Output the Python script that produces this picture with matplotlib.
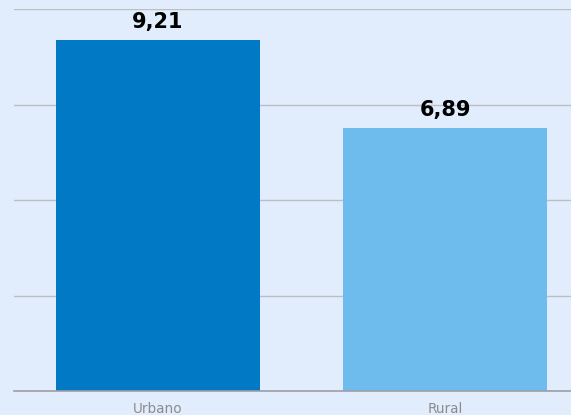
import matplotlib.pyplot as plt

categories = ["Urbano", "Rural"]
values = [9.21, 6.89]
value_labels = ["9,21", "6,89"]
bar_colors = ["#0279c4", "#6ebcee"]
y_ticks = [0, 2.5, 5, 7.5, 10]

bg = "#e1edfd"

fig = plt.figure(figsize=(5.71, 4.15), dpi=100, facecolor=bg)
ax = fig.add_axes([14 / 571, 1 - 391 / 415, 1 - 14 / 571, (391 - 9.5) / 415])
ax.set_facecolor(bg)

x = list(range(len(categories)))
bars = ax.bar(x, values, width=0.71, color=bar_colors, zorder=3)

for xi, v, lab in zip(x, values, value_labels):
    ax.annotate(lab, (xi, v), xytext=(0, 8.6), textcoords="offset points",
                ha="center", va="baseline", fontsize=15, fontweight="bold",
                color="black", family="DejaVu Sans")

ax.set_xlim(-0.502, 1.439)
ax.set_ylim(0, 10)
ax.set_yticks(y_ticks)
ax.yaxis.grid(True, color="#bcbec0", linewidth=1, zorder=0)
ax.tick_params(axis="y", left=False, labelleft=False)
ax.set_xticks(x)
ax.set_xticklabels(categories)
ax.tick_params(axis="x", length=0, pad=8, labelsize=9.8, labelcolor="#8c8c8c")

for s in ["top", "right", "left"]:
    ax.spines[s].set_visible(False)
ax.spines["bottom"].set_color("#9c9fa3")
ax.spines["bottom"].set_linewidth(1.2)
ax.spines["bottom"].set_zorder(4)

fig.savefig("out.png", dpi=100, facecolor=bg)
